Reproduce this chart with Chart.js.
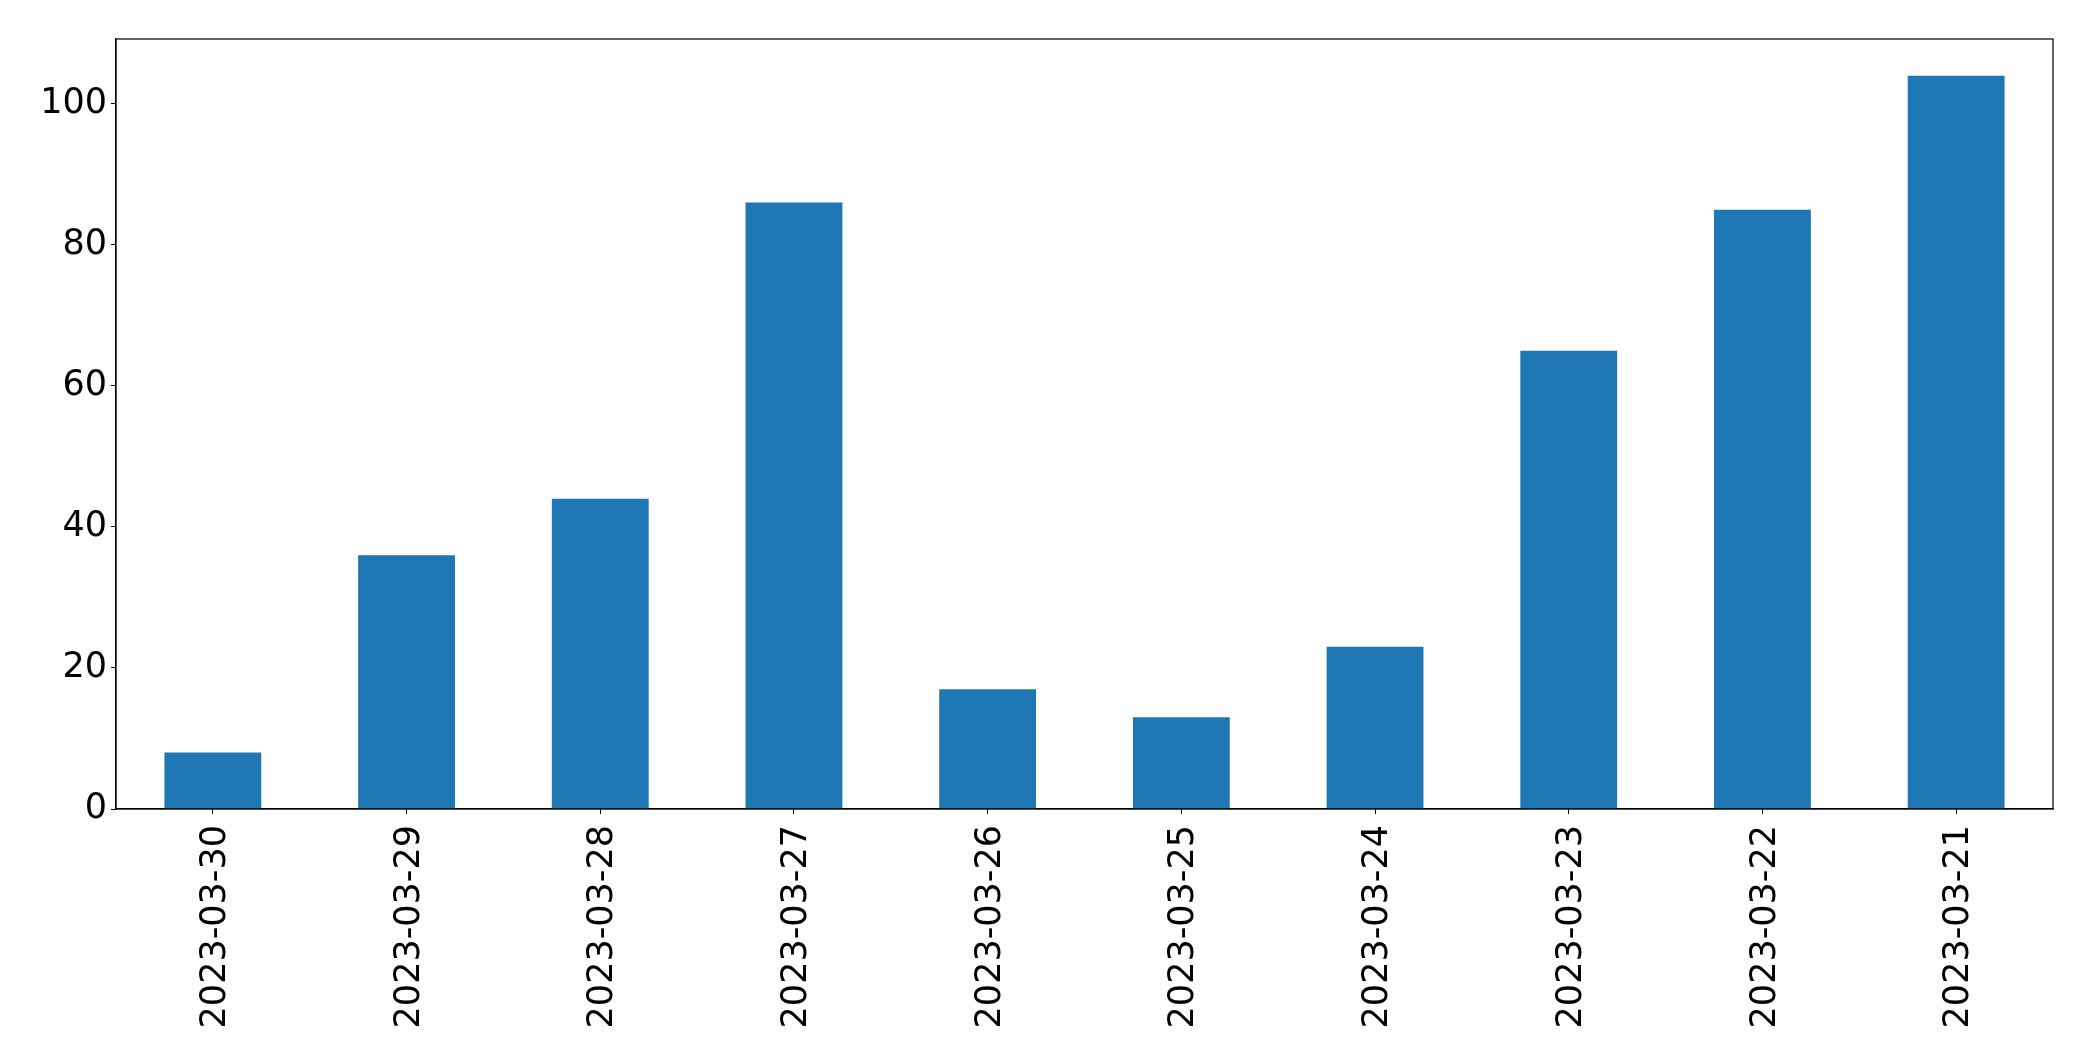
<!DOCTYPE html>
<html>
<head>
<meta charset="utf-8">
<script src="https://cdn.jsdelivr.net/npm/chart.js@4"></script>
<style>
	html, body { margin: 0; padding: 0; background: #fff; }
	#wrap { width: 2093px; height: 1061px; }
</style>
</head>
<body>
<div id="wrap"><canvas id="barChart" width="2093" height="1061"></canvas></div>
<script>
const dates = ['2023-03-30', '2023-03-29', '2023-03-28', '2023-03-27', '2023-03-26',
	'2023-03-25', '2023-03-24', '2023-03-23', '2023-03-22', '2023-03-21'];
const counts = [8, 36, 44, 86, 17, 13, 23, 65, 85, 104];
const yTicks = [0, 20, 40, 60, 80, 100];

const tickFont = { family: 'DejaVu Sans', size: 35 };

// box around the plot like the matplotlib axes frame
const frame = {
	id: 'frame',
	afterDraw(chart) {
		const { ctx, chartArea: a } = chart;
		ctx.save();
		ctx.strokeStyle = '#000';
		ctx.lineWidth = 1.2;
		ctx.strokeRect(a.left, a.top, a.right - a.left, a.bottom - a.top);
		ctx.restore();
	}
};

const ctx = document.getElementById('barChart').getContext('2d');
new Chart(ctx, {
	type: 'bar',
	data: {
		labels: dates,
		datasets: [{
			data: counts,
			backgroundColor: '#1f77b4',
			borderWidth: 0,
			categoryPercentage: 1,
			barPercentage: 0.5
		}]
	},
	options: {
		responsive: false,
		animation: false,
		layout: { padding: { left: 0, top: 39, right: 40, bottom: 0 } },
		plugins: { legend: { display: false }, tooltip: { enabled: false } },
		scales: {
			x: {
				offset: true,
				grid: { display: true, offset: false, drawOnChartArea: false, drawTicks: true, tickLength: 5, color: '#000' },
				border: { display: true, color: '#000', width: 1.2 },
				ticks: { color: '#000', font: tickFont, minRotation: 90, maxRotation: 90, padding: 11, labelOffset: 3, autoSkip: false },
				afterFit: s => { s.height = 252; }
			},
			y: {
				min: 0,
				max: Math.max(...counts) * 1.05,
				grid: { display: true, drawOnChartArea: false, drawTicks: true, tickLength: 5, color: '#000' },
				border: { display: true, color: '#000', width: 1.2 },
				ticks: {
					color: '#000', font: tickFont, stepSize: 20, padding: 4, includeBounds: false,
					callback: v => yTicks.includes(v) ? String(v) : null
				},
				afterFit: s => { s.width = 116; }
			}
		}
	},
	plugins: [frame]
});
</script>
</body>
</html>
